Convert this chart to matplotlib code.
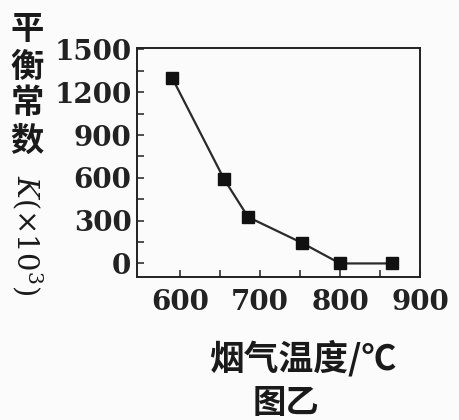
import matplotlib
matplotlib.use('Agg')
import matplotlib.pyplot as plt
from matplotlib.ticker import FixedLocator

# 烟气温度 (°C) vs 平衡常数 K (x10^3)
temps = [590, 655, 685, 752, 800, 865]
k_values = [1300, 590, 325, 145, 0, 0]
x_ticks = [600, 700, 800, 900]
x_minor = [650, 750, 850]
y_ticks = [0, 300, 600, 900, 1200, 1500]
y_minor = [150, 450, 750, 1050, 1350]

plt.rcParams['mathtext.fontset'] = 'dejavuserif'
cjk = ['Noto Sans CJK SC', 'DejaVu Sans']

fig = plt.figure(figsize=(4.59, 4.20), dpi=100, facecolor='#fbfbfb')
ax = fig.add_axes([0.2985, 0.3405, 0.6165, 0.5452])
ax.set_facecolor('#fbfbfb')

ax.plot(temps, k_values, color='#2a2a2a', lw=1.6, marker='s', ms=8.5,
        mfc='#111111', mec='#111111')

ax.set_xlim(546, 900)
ax.set_ylim(-95, 1510)
ax.set_xticks(x_ticks)
ax.set_yticks(y_ticks)
ax.xaxis.set_minor_locator(FixedLocator(x_minor))
ax.yaxis.set_minor_locator(FixedLocator(y_minor))

for s in ax.spines.values():
    s.set_linewidth(1.4)
    s.set_color('#222222')

ax.tick_params(which='both', direction='in', length=5, width=1.2, color='#333333',
               top=False, right=False)
ax.tick_params(axis='y', labelsize=20, pad=4)
ax.tick_params(axis='x', labelsize=20, pad=9)
for lab in ax.get_xticklabels() + ax.get_yticklabels():
    lab.set_fontfamily('DejaVu Serif')
    lab.set_fontweight('bold')
    lab.set_color('#222222')

# y label: stacked upright chars then rotated K(x10^3)
for i, ch in enumerate('平衡常数'):
    fig.text(27 / 459, 1 - (30 + 37 * i) / 420, ch, family=cjk, fontsize=24,
             weight='bold', ha='center', va='center', color='#1a1a1a')
fig.text(27 / 459, 1 - 235 / 420, r'$K$(×10$^3$)', family='DejaVu Serif',
         fontsize=21, rotation=270, ha='center', va='center', color='#1a1a1a')

fig.text(303 / 459, 1 - 358 / 420, '烟气温度/℃', family=cjk, fontsize=25,
         weight='bold', ha='center', va='center', color='#1a1a1a')
fig.text(286 / 459, 1 - 404 / 420, '图乙', family=cjk, fontsize=24,
         weight='bold', ha='center', va='center', color='#1a1a1a')

fig.savefig('out.png', dpi=100, facecolor=fig.get_facecolor())
